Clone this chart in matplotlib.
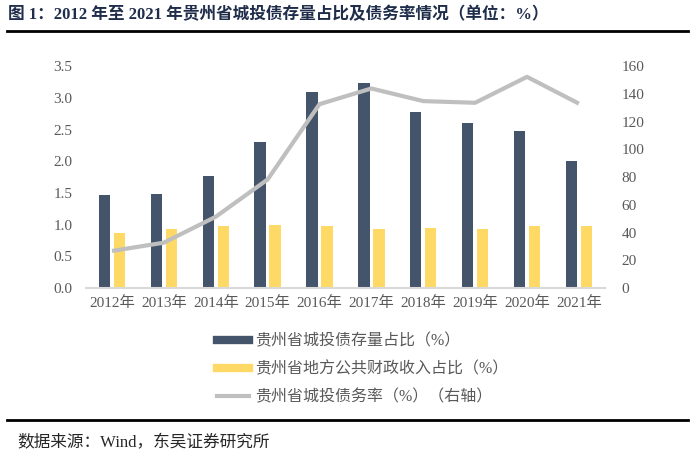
import numpy as np
import matplotlib.pyplot as plt
from matplotlib.lines import Line2D

plt.rcParams['font.family'] = ['Liberation Serif', 'Noto Sans CJK SC', 'DejaVu Sans']

# data
years = ['2012年', '2013年', '2014年', '2015年', '2016年',
         '2017年', '2018年', '2019年', '2020年', '2021年']
bond_share = [1.46, 1.49, 1.77, 2.30, 3.10, 3.23, 2.77, 2.60, 2.47, 2.01]
revenue_share = [0.87, 0.93, 0.98, 0.99, 0.98, 0.93, 0.94, 0.93, 0.98, 0.98]
debt_ratio = [26.7, 32.7, 51.4, 78.3, 132.6, 143.9, 134.8, 133.6, 152.3, 133.0]

labels = ['贵州省城投债存量占比（%）',
          '贵州省地方公共财政收入占比（%）',
          '贵州省城投债务率（%）（右轴）']

navy = '#44546A'
yellow = '#FFD966'
grey = '#BFBFBF'
tick_col = '#595959'

fig = plt.figure(figsize=(7, 4.66), dpi=100)
ax = fig.add_axes([0.123, 0.382, 0.741, 0.476])
ax2 = ax.twinx()

x = np.arange(len(years))
w = 0.22
ax.bar(x - 0.145, bond_share, w, color=navy, zorder=2)
ax.bar(x + 0.145, revenue_share, w, color=yellow, zorder=2)
ax2.plot(x, debt_ratio, color=grey, lw=3, solid_capstyle='butt', zorder=3)

ax.set_xlim(-0.5, len(years) - 0.5)
ax.set_ylim(0, 3.5)
ax.set_yticks(np.arange(0, 3.51, 0.5))
ax.set_yticklabels(['%.1f' % v for v in np.arange(0, 3.51, 0.5)])
ax2.set_ylim(0, 160)
ax2.set_yticks(range(0, 161, 20))
ax.set_xticks(x)
ax.set_xticklabels(years)

for a in (ax, ax2):
    for s in a.spines.values():
        s.set_visible(False)
    a.tick_params(length=0, labelsize=11, colors=tick_col)
ax.spines['bottom'].set_visible(True)
ax.spines['bottom'].set_color('#D9D9D9')
ax.spines['bottom'].set_linewidth(1.5)
ax.tick_params(axis='x', pad=6)
ax.tick_params(axis='y', pad=10)
ax2.tick_params(axis='y', pad=12)

handles = [Line2D([], [], color=navy, lw=6),
           Line2D([], [], color=yellow, lw=6),
           Line2D([], [], color=grey, lw=3)]
fig.legend(handles, labels, loc='upper left', bbox_to_anchor=(0.29, 0.315),
           frameon=False, fontsize=11.5, handlelength=2.0, handletextpad=0.35,
           labelspacing=0.75, labelcolor=tick_col)

# title, rules and source
fig.text(0.012, 0.967, '图 1：2012 年至 2021 年贵州省城投债存量占比及债务率情况（单位：%）',
         fontsize=12, fontweight='bold', color='#1F2D4A', va='center')
fig.add_artist(Line2D([0.01, 0.983], [0.934, 0.934], color='black', lw=2))
fig.add_artist(Line2D([0.01, 0.983], [0.099, 0.099], color='black', lw=2))
fig.text(0.025, 0.049, '数据来源：Wind，东吴证券研究所', fontsize=12, color='#262626', va='center')

fig.savefig('out.png')
